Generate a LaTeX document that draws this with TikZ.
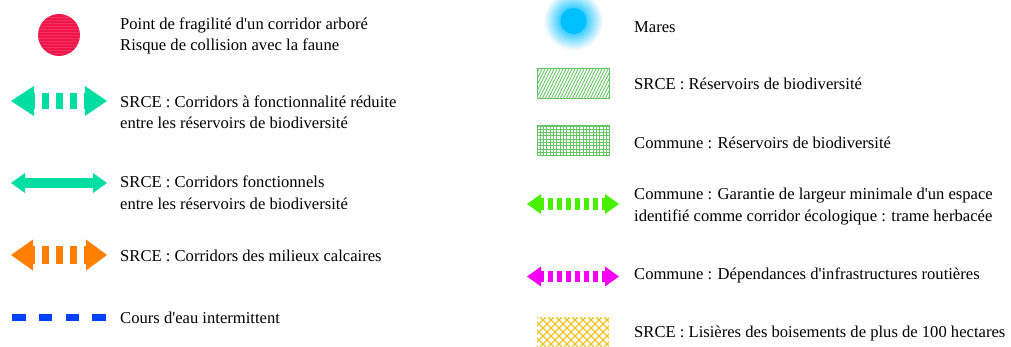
\documentclass[tikz,border=0pt]{standalone}
\usepackage{fontspec}
\setmainfont{Liberation Serif}
\definecolor{fragred}{RGB}{240,22,76}
\definecolor{corteal}{RGB}{0,221,163}
\definecolor{calcorange}{RGB}{255,127,0}
\definecolor{riverblue}{RGB}{0,66,255}
\definecolor{pondblue}{RGB}{0,191,255}
\definecolor{resgreen}{RGB}{102,198,102}
\definecolor{herblime}{RGB}{72,240,0}
\definecolor{roadmag}{RGB}{245,0,245}
\definecolor{edgeyellow}{RGB}{236,196,40}
\newcommand\ap{\textquotesingle}
\begin{document}
\begin{tikzpicture}[x=1pt,y=-1pt,
  lbl/.style={anchor=west,inner sep=0pt,align=left,
    font=\fontsize{16.6}{21.5}\selectfont},
  hatchbox/.style={draw=resgreen,line width=1pt}]
\useasboundingbox (0,0) rectangle (1011,347);

% ---------- left column ----------
% fragile point
\fill[fragred] (59,35) circle (21);
\foreach \k in {-18,-15,...,18}
  \draw[white,opacity=0.12,line width=0.6pt] (38,35+\k) -- (80,35+\k);
\node[lbl] (t1) at (120,36) {Point de fragilit\'e d\ap un corridor arbor\'e\\Risque de collision avec la faune};

% reduced corridors (dashed teal)
\draw[corteal,line width=16pt,dash pattern=on 7pt off 7pt] (28,101) -- (91,101);
\fill[corteal] (11,101) -- (34,86) -- (34,116) -- cycle;
\fill[corteal] (107,101) -- (85,86) -- (85,116) -- cycle;
\node[lbl] (t2) at (120,112) {SRCE : Corridors \`a fonctionnalit\'e r\'eduite\\entre les r\'eservoirs de biodiversit\'e};

% functional corridors (solid teal)
\fill[corteal] (24,178) rectangle (94,188);
\fill[corteal] (11,183) -- (25,173) -- (25,193) -- cycle;
\fill[corteal] (107,183) -- (93,173) -- (93,193) -- cycle;
\node[lbl] (t3) at (120,192.5) {SRCE : Corridors fonctionnels\\entre les r\'eservoirs de biodiversit\'e};

% calcareous corridors (dashed orange)
\draw[calcorange,line width=18pt,dash pattern=on 7pt off 7pt] (28,255) -- (91,255);
\fill[calcorange] (11,255) -- (33,239.5) -- (33,270.5) -- cycle;
\fill[calcorange] (107,255) -- (86,239.5) -- (86,270.5) -- cycle;
\node[lbl] (t4) at (120,256) {SRCE : Corridors des milieux calcaires};

% intermittent stream
\draw[riverblue,line width=7pt,dash pattern=on 13.5pt off 13.3pt] (12,317) -- (106,317);
\node[lbl] (t5) at (120,318) {Cours d\ap eau intermittent};

% ---------- right column ----------
% ponds: soft halo around a solid disc
\foreach \i in {0,...,32}{
  \pgfmathsetmacro\rr{30-\i*0.53}
  \pgfmathsetmacro\pc{\i*2.4}
  \fill[pondblue!\pc!white] (573.5,21) circle (\rr);
}
\fill[pondblue] (573.5,21) circle (13);
\node[lbl] (t6) at (634,27) {Mares};

% SRCE reservoirs (hatched)
\begin{scope}
  \clip (537,69) rectangle (609,99);
  \foreach \x in {515,518,...,612}
    \draw[resgreen,line width=0.9pt] (\x,99) -- (\x+15,69);
\end{scope}
\draw[hatchbox] (537,69) rectangle (609,99);
\node[lbl] (t7) at (634,83.5) {SRCE : R\'eservoirs de biodiversit\'e};

% municipal reservoirs (grid)
\begin{scope}
  \clip (537,126) rectangle (609,156);
  \foreach \x in {537,540.3,...,610}
    \draw[resgreen,line width=0.9pt] (\x,126) -- (\x,156);
  \foreach \y in {126,129.3,...,157}
    \draw[resgreen,line width=0.9pt] (537,\y) -- (609,\y);
\end{scope}
\draw[hatchbox] (537,126) rectangle (609,156);
\node[lbl] (t8) at (634,143) {Commune : R\'eservoirs de biodiversit\'e};

% grassland corridor (dashed lime)
\draw[herblime,line width=12pt,dash pattern=on 4.5pt off 4.5pt] (539,204) -- (608,204);
\fill[herblime] (527,204) -- (541,194) -- (541,214) -- cycle;
\fill[herblime] (619,204) -- (605,194) -- (605,214) -- cycle;
\node[lbl] (t9) at (634,206.5) {Commune : Garantie de largeur minimale d\ap un espace\\identifi\'e comme corridor \'ecologique : trame herbac\'ee};

% road dependencies (dashed magenta)
\draw[roadmag,line width=11pt,dash pattern=on 4.5pt off 4.5pt] (539,276.5) -- (608,276.5);
\fill[roadmag] (527,276.5) -- (541,266.5) -- (541,286.5) -- cycle;
\fill[roadmag] (619,276.5) -- (605,266.5) -- (605,286.5) -- cycle;
\node[lbl] (t10) at (634,275) {Commune : D\'ependances d\ap infrastructures routi\`eres};

% forest edges (crosshatch)
\begin{scope}
  \clip (537,317) rectangle (609,347);
  \foreach \x in {500,508,...,620}
    \draw[edgeyellow,line width=1.1pt] (\x,347) -- (\x+30,317)
      (\x,317) -- (\x+30,347);
\end{scope}
\node[lbl] (t11) at (634,333) {SRCE : Lisi\`eres des boisements de plus de 100 hectares};
\end{tikzpicture}
\end{document}
